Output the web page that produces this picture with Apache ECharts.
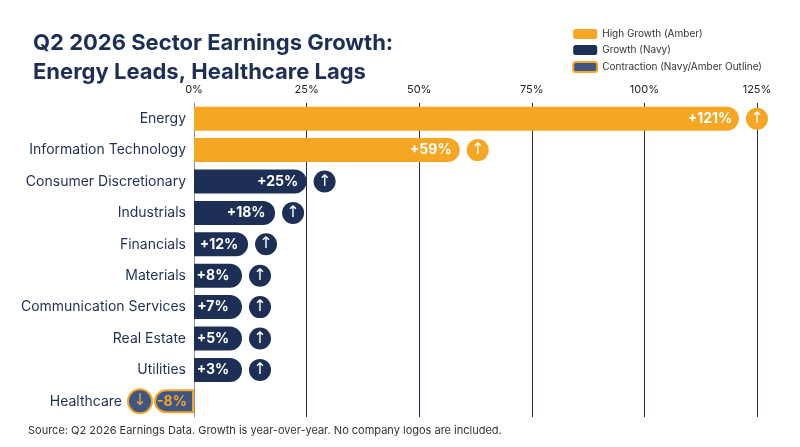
<!DOCTYPE html><html><head><meta charset="utf-8">
<script src="https://cdn.jsdelivr.net/npm/echarts@6/dist/echarts.min.js"></script>
<style>html,body{margin:0;background:#fff}#c{width:800px;height:447px}</style></head><body><div id="c"></div>
<script>
const categories=["Energy","Information Technology","Consumer Discretionary","Industrials","Financials","Materials","Communication Services","Real Estate","Utilities","Healthcare"];
const values=[121,59,25,18,12,8,7,5,3,-8];
const highSet=["Energy","Information Technology"];
const tickLabels=["0%","25%","50%","75%","100%","125%"];
const AMBER="#F5A623",NAVY="#1E2F55",CON="#3F5585";
function lbl(v){return (v>0?"+":"")+v+"%";}
const high=values.map((v,i)=>highSet.includes(categories[i])?v:null);
const growth=values.map((v,i)=>!highSet.includes(categories[i])&&v>=0?v:null);
const contr=values.map(v=>v<0?v:null);
const rich=(bg,fg,bd)=>({v:{width:44,align:'right',color:fg,fontSize:14,fontWeight:'bold',fontFamily:'Inter'},
 vl:{width:30,align:'left',color:fg,fontSize:14,fontWeight:'bold',fontFamily:'Inter'},
 s:{width:14},t:{width:6},
 a:{width:22,height:22,borderRadius:12,backgroundColor:bg,borderColor:bd,borderWidth:bd?2:0,color:bd||'#fff',align:'center',fontSize:16,fontFamily:'DejaVu Sans'}});
function ser(name,data,color,kind){
 return {name,type:'bar',stack:'s',data,barWidth:24,barMinHeight:kind==='c'?40:48,clip:false,
  itemStyle:{color,borderRadius:kind==='c'?[12,0,0,12]:[0,12,12,0],borderColor:kind==='c'?AMBER:undefined,borderWidth:kind==='c'?2:0},
  label:{show:true,position:kind==='c'?'left':'right',offset:kind==='c'?[38,0]:[-56,0],
   formatter:p=>p.value==null?'':(kind==='c'?'{a|↓}{t|}{vl|'+lbl(p.value)+'}':'{v|'+lbl(p.value)+'}{s|}{a|↑}'),
   rich:kind==='c'?rich(CON,AMBER,AMBER):rich(kind==='h'?AMBER:NAVY,'#fff',null)}};
}
const ch=echarts.init(document.getElementById('c'));
ch.setOption({animation:false,
 title:{text:'Q2 2026 Sector Earnings Growth:\nEnergy Leads, Healthcare Lags',left:28,top:24,textStyle:{fontSize:22,fontWeight:'bold',color:'#1E2F55',lineHeight:29,fontFamily:'Inter'}},
 legend:{orient:'vertical',right:33,top:24,itemWidth:24,itemHeight:10,itemGap:6,icon:'roundRect',textStyle:{fontSize:10,color:'#333',fontFamily:'Inter'},
  data:[{name:'High Growth (Amber)'},{name:'Growth (Navy)'},{name:'Contraction (Navy/Amber Outline)'}]},
 grid:{left:194,right:43,top:103,bottom:30},
 xAxis:{type:'value',position:'top',min:0,max:125,interval:25,
  axisLabel:{formatter:v=>tickLabels[v/25],color:'#222',fontSize:11,fontFamily:'Inter'},
  axisLine:{show:false},axisTick:{show:false},splitLine:{lineStyle:{color:'#1E2F55',width:1}}},
 yAxis:{type:'category',data:categories,inverse:true,axisTick:{show:false},
  axisLine:{lineStyle:{color:'#8a93a6'}},
  axisLabel:{color:'#1E2F55',fontSize:14,margin:8,fontFamily:'Inter',formatter:v=>v==='Healthcare'?'{h|'+v+'}':v,
   rich:{h:{color:'#1E2F55',fontSize:14,fontFamily:'Inter',padding:[0,64,0,0]}}}},
 series:[ser('High Growth (Amber)',high,AMBER,'h'),ser('Growth (Navy)',growth,NAVY,'g'),ser('Contraction (Navy/Amber Outline)',contr,CON,'c')],
 graphic:[{type:'text',left:28,top:425,style:{text:'Source: Q2 2026 Earnings Data. Growth is year-over-year. No company logos are included.',fontSize:11,fill:'#333',fontFamily:'Inter'}}]
});
</script></body></html>
